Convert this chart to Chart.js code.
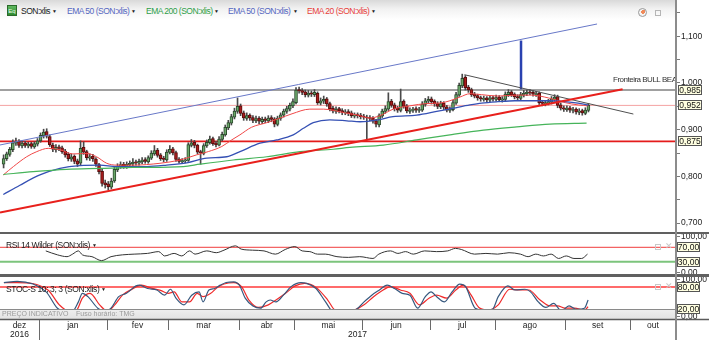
<!DOCTYPE html>
<html>
<head>
<meta charset="utf-8">
<script src="https://cdn.jsdelivr.net/npm/chart.js@4.4.1/dist/chart.umd.min.js"></script>
<style>
  body { margin: 0; background: #fff; }
  #wrap { position: relative; width: 709px; height: 340px; overflow: hidden; font-family: 'Liberation Sans', Arial, sans-serif; }
  canvas { position: absolute; left: 0; }
  #header { position: absolute; left: 0; top: 0; width: 676px; height: 20px; background: linear-gradient(#d9d9d9, #f2f2f2 45%, #fff); }
  .lbl { position: absolute; font-size: 8.5px; line-height: 9px; white-space: nowrap; letter-spacing: -0.5px; }
  .arr { position: absolute; font-size: 5px; line-height: 9px; color: #222; }
  .sep { position: absolute; left: 0; width: 709px; background: #606060; }
  #axisline { position: absolute; left: 675px; top: 0; width: 2px; height: 340px; background: #8c8c8c; }
  #eq { position: absolute; left: 7px; top: 5px; width: 10px; height: 11px; background: linear-gradient(#5fb85f, #2f8a2f); border: 1px solid #2a6a2a; box-sizing: border-box; color: #e8ffe8; font-size: 6px; line-height: 10px; text-align: center; }
  .ico { position: absolute; box-sizing: border-box; }
</style>
</head>
<body>
<div id="wrap">
  <canvas id="main" width="709" height="232" style="top:0"></canvas>
  <canvas id="rsi" width="709" height="40" style="top:234px"></canvas>
  <canvas id="stoch" width="709" height="64" style="top:276px"></canvas>

  <div id="header">
    <div id="eq">Eq</div>
    <div class="lbl" style="left:21px;top:7px;color:#1a1a1a">SON:xlis</div><div class="arr" style="left:52px;top:7px">&#9660;</div>
    <div class="lbl" style="left:67px;top:7px;color:#5566c0">EMA 50 (SON:xlis)</div><div class="arr" style="left:131px;top:7px">&#9660;</div>
    <div class="lbl" style="left:146px;top:7px;color:#2e9e48">EMA 200 (SON:xlis)</div><div class="arr" style="left:214px;top:7px">&#9660;</div>
    <div class="lbl" style="left:228px;top:7px;color:#5566c0">EMA 50 (SON:xlis)</div><div class="arr" style="left:293px;top:7px">&#9660;</div>
    <div class="lbl" style="left:307px;top:7px;color:#e8403a">EMA 20 (SON:xlis)</div><div class="arr" style="left:371px;top:7px">&#9660;</div>
    <div class="ico" style="left:638px;top:8px;width:9px;height:9px;border-radius:50%;border:1px solid #999;background:radial-gradient(circle at 60% 40%, #f08a5a 0 35%, #f4f4f4 36%)"></div>
    <div class="ico" style="left:655px;top:10px;width:6px;height:6px;border:1px solid #b5b5b5"></div>
  </div>

  <div class="sep" style="top:232px;height:2px"></div>
  <div class="sep" style="top:274px;height:3px"></div>

  <div class="lbl" style="left:6px;top:241px;color:#222;letter-spacing:-0.4px">RSI 14 Wilder (SON:xlis)</div><div class="arr" style="left:92px;top:241px">&#9660;</div>
  <div class="lbl" style="left:6px;top:285px;color:#222;letter-spacing:-0.4px">STOC-S 10; 3; 3 (SON:xlis)</div><div class="arr" style="left:101px;top:285px">&#9660;</div>

  <div class="ico" style="left:655px;top:244px;width:6px;height:6px;border:1px solid #c8c8c8"></div>
  <div class="lbl" style="left:665px;top:242px;color:#c8c8c8">&#10005;</div>
  <div class="ico" style="left:655px;top:284px;width:6px;height:6px;border:1px solid #c8c8c8"></div>
  <div class="lbl" style="left:665px;top:282px;color:#c8c8c8">&#10005;</div>

  <div id="axisline"></div>
</div>

<script>
const FONT = "'Liberation Sans', Arial, sans-serif";
const X_MIN = -1.17;
const X_MAX = 218.45;

// daily candles, dez 2016 .. set 2017
const opens = [
  .826,.838,.847,.857,.871,.875,.865,.872,.865,.870,
  .863,.869,.876,.887,.896,.885,.867,.857,.863,.861,
  .854,.847,.837,.843,.833,.828,.862,.853,.839,.843,
  .837,.825,.811,.786,.784,.777,.790,.814,.821,.826,
  .821,.825,.827,.831,.828,.831,.836,.831,.839,.848,
  .856,.846,.839,.835,.851,.859,.851,.837,.831,.833,
  .834,.866,.873,.867,.853,.849,.865,.872,.881,.871,
  .867,.879,.889,.904,.914,.927,.939,.951,.936,.924,
  .931,.926,.919,.925,.917,.923,.919,.926,.923,.911,
  .924,.931,.939,.944,.951,.958,.986,.984,.981,.974,
  .979,.975,.978,.957,.961,.966,.956,.946,.939,.945,
  .941,.936,.939,.936,.929,.932,.931,.929,.926,.926,
  .925,.919,.910,.929,.939,.944,.961,.953,.946,.941,
  .961,.951,.939,.941,.945,.941,.942,.954,.961,.966,
  .961,.956,.949,.957,.949,.941,.943,.957,.974,.994,
  1.012,.991,.986,.976,.973,.969,.965,.968,.963,.969,
  .965,.970,.963,.965,.975,.981,.976,.971,.967,.974,
  .977,.981,.980,.975,.978,.959,.955,.957,.959,.965,
  .971,.953,.947,.943,.947,.941,.944,.937,.941,.935,
  .941
];
const closes = [
  .838,.848,.858,.872,.874,.866,.871,.866,.869,.864,
  .870,.876,.888,.895,.886,.868,.858,.862,.860,.853,
  .846,.838,.842,.832,.826,.860,.852,.840,.842,.838,
  .826,.810,.785,.782,.778,.790,.815,.822,.825,.822,
  .826,.828,.830,.829,.832,.835,.832,.840,.850,.855,
  .845,.838,.836,.852,.858,.850,.836,.832,.834,.835,
  .868,.872,.866,.852,.850,.866,.873,.880,.870,.868,
  .880,.890,.905,.915,.928,.940,.950,.935,.925,.930,
  .925,.920,.924,.918,.922,.920,.925,.922,.912,.925,
  .932,.940,.945,.952,.960,.985,.983,.980,.975,.978,
  .976,.980,.958,.962,.965,.955,.945,.940,.944,.940,
  .937,.938,.935,.930,.931,.930,.928,.927,.925,.924,
  .918,.912,.930,.940,.945,.960,.952,.945,.942,.960,
  .950,.940,.942,.944,.942,.943,.955,.962,.965,.960,
  .955,.950,.956,.948,.942,.944,.958,.975,.995,1.010,
  .990,.985,.975,.972,.968,.966,.967,.964,.968,.966,
  .969,.964,.966,.976,.980,.975,.970,.968,.975,.978,
  .980,.979,.976,.977,.958,.956,.958,.960,.966,.970,
  .952,.946,.944,.946,.942,.943,.938,.940,.936,.942,
  .952
];
const highs = [
  .846,.852,.862,.878,.882,.879,.876,.875,.873,.873,
  .874,.881,.893,.901,.902,.889,.871,.868,.867,.865,
  .858,.851,.848,.846,.837,.876,.874,.856,.848,.847,
  .840,.828,.815,.792,.789,.796,.820,.827,.831,.830,
  .831,.833,.838,.835,.837,.840,.840,.844,.855,.866,
  .860,.849,.843,.857,.866,.862,.854,.840,.838,.840,
  .872,.879,.877,.869,.856,.870,.878,.886,.884,.875,
  .885,.895,.910,.920,.933,.946,.968,.955,.940,.936,
  .934,.930,.929,.928,.927,.927,.930,.930,.926,.929,
  .936,.944,.950,.957,.966,.990,.991,.988,.985,.984,
  .983,.986,.981,.968,.972,.969,.959,.950,.949,.948,
  .945,.943,.943,.940,.936,.936,.935,.933,.931,.930,
  .928,.922,.934,.944,.951,.979,.965,.957,.950,.987,
  .964,.954,.947,.948,.949,.948,.960,.967,.971,.970,
  .964,.960,.961,.960,.952,.949,.963,.980,1.000,1.019,
  1.016,.995,.989,.980,.976,.972,.972,.971,.973,.972,
  .974,.973,.971,.981,.986,.984,.979,.975,.980,.984,
  .985,.986,.984,.982,.981,.963,.962,.965,.971,.975,
  .974,.957,.951,.951,.950,.948,.947,.945,.944,.947,
  .956
];
const lows = [
  .818,.834,.843,.853,.866,.862,.861,.862,.861,.860,
  .860,.865,.873,.882,.882,.864,.853,.852,.855,.849,
  .841,.833,.832,.827,.821,.825,.847,.835,.834,.832,
  .821,.805,.779,.775,.771,.773,.787,.810,.817,.817,
  .817,.821,.823,.824,.824,.827,.828,.828,.836,.845,
  .841,.834,.831,.832,.848,.846,.832,.828,.827,.829,
  .832,.863,.861,.848,.826,.846,.862,.869,.866,.863,
  .865,.876,.886,.900,.910,.923,.935,.930,.920,.920,
  .920,.915,.915,.913,.913,.915,.915,.917,.906,.908,
  .920,.927,.935,.940,.947,.955,.978,.975,.970,.970,
  .971,.971,.954,.953,.956,.950,.940,.936,.935,.936,
  .932,.932,.930,.926,.925,.925,.923,.922,.878,.919,
  .914,.906,.906,.926,.935,.941,.948,.940,.937,.938,
  .946,.936,.935,.937,.937,.937,.939,.950,.957,.955,
  .950,.945,.945,.943,.938,.937,.940,.954,.971,.990,
  .985,.980,.971,.968,.963,.961,.961,.959,.960,.961,
  .961,.960,.959,.962,.971,.971,.966,.963,.964,.970,
  .973,.975,.972,.971,.954,.951,.951,.953,.955,.961,
  .947,.942,.939,.939,.937,.936,.933,.932,.931,.932,
  .938
];

// moving averages (x = trading day)
const ema20X = [-0.1,3.2,7.5,10.8,14.5,18.3,22.5,27.0,30.2,33.5,36.7,42.0,50.8,57.3,62.7,66.5,70.9,74.1,76.8,80.5,85.5,89.5,93.7,99.5,104.0,110.9,114.5,119.0,122.3,126.6,132.0,137.5,141.8,145.0,148.3,151.5,155.3,160.7,166.1,171.6,177.0,182.4,186.7,190.0];
const ema20Y = [.803,.821,.842,.853,.860,.857,.848,.849,.842,.828,.824,.824,.828,.835,.846,.853,.864,.878,.889,.905,.915,.924,.934,.944,.944,.936,.932,.925,.930,.944,.951,.956,.957,.962,.970,.977,.975,.972,.974,.974,.968,.958,.953,.951];
const ema50X = [-0.1,5.3,11.8,18.3,24.8,31.3,36.7,46.5,53.0,59.5,66.0,72.5,76.8,83.3,88.7,94.1,97.4,100.6,106.0,111.5,115.8,121.6,126.5,134.2,140.7,146.1,151.5,155.3,160.6,166.1,177.0,182.4,186.6,190.0];
const ema50Y = [.761,.781,.803,.817,.823,.824,.821,.821,.824,.829,.839,.842,.853,.871,.878,.889,.903,.915,.921,.919,.917,.921,.928,.931,.939,.946,.953,.957,.960,.962,.962,.960,.957,.953];
const ema200X = [-0.1,9.6,20.5,31.3,42.1,58.4,63.8,74.6,85.5,96.3,107.1,112.5,123.4,134.2,145.0,155.9,166.7,177.5,189.4];
const ema200Y = [.804,.810,.815,.817,.819,.821,.826,.835,.842,.853,.858,.862,.867,.878,.889,.899,.906,.912,.914];

// drawn studies
const levels = [0.985, 0.952, 0.875];
const levelLabels = ['0,985', '0,952', '0,875'];
const supportX = [-1.17, 201.1], supportY = [0.7225, 0.9865];
const channelX = [-1.17, 192.8], channelY = [0.8672, 1.1264];
const resistX = [149.7, 204.6], resistY = [1.0178, 0.9335];
const markerX = [168.1, 168.1], markerY = [0.9865, 1.091];
const noteText = 'Fronteira BULL BEAR';
const noteX = 198, noteY = 1.006;

const priceTicks = [0.70, 0.75, 0.80, 0.85, 0.90, 0.95, 1.00, 1.05, 1.10, 1.15];
const priceTickLabels = ['0,700', '', '0,800', '', '0,900', '', '1,000', '', '1,100', ''];

// RSI 14
const rsiX = [13.7,17.5,20.6,22.4,24.3,25.6,28.7,31.8,34.9,38.6,42.4,46.7,50.4,52.3,55.4,57.9,60.4,62.2,66.0,69.1,71.6,75.3,77.2,80.9,84.6,88.3,91.5,94.6,97.0,99.5,102.0,104.5,108.3,112.0,115.7,120.0,121.9,125.7,128.1,130.6,133.1,136.8,140.6,144.3,146.8,148.7,153.0,156.7,160.5,164.2,167.9,170.4,172.9,175.4,177.9,180.3,182.8,185.3,187.8,189.7];
const rsiY = [60,49,44,51,60,49,44,33,44,49,51,53,58,46,53,46,60,51,60,55,62,74,65,62,60,51,64,72,60,58,51,51,44,42,44,39,51,60,53,58,51,60,58,60,67,64,51,53,51,55,51,44,51,46,51,39,46,39,39,51];
const rsiLevels = [70, 30];
const rsiLevelLabels = ['70,00', '30,00'];
const rsiTicks = [0, 100];
const rsiTickLabels = ['0,00', '100,00'];

// stochastic 10;3;3
const stochKX = [0.1,4.4,13.8,17.5,20.6,22.4,24.3,25.6,27.4,30.6,33.0,34.9,37.4,39.9,43.0,44.2,46.8,49.8,52.3,54.2,56.0,58.6,61.1,63.5,64.8,66.7,68.6,70.4,72.3,74.8,76.6,78.5,81.0,83.5,85.3,86.6,88.5,90.9,93.4,96.6,98.4,101.5,104.6,107.1,109.6,112.1,114.6,117.1,119.6,122.1,124.6,127.0,129.5,132.0,134.5,137.0,138.9,140.7,143.2,145.7,148.2,150.1,153.2,155.7,158.8,160.7,163.8,166.2,169.4,171.2,173.7,176.2,178.7,181.2,183.7,186.2,188.7,189.9];
const stochKY = [92,95,67,23,15,15,40,63,54,23,14,23,54,63,83,85,76,72,58,74,50,32,58,67,40,72,76,85,92,94,85,50,29,23,40,45,40,58,81,92,90,76,40,14,18,15,20,40,58,72,85,76,63,58,23,54,67,54,40,67,88,81,23,18,20,54,83,72,74,67,40,25,36,16,29,20,23,45];
const stochDX = [0.1,4.4,14.4,18.1,21.2,23.7,25.6,28.1,31.2,33.7,36.1,38.6,41.7,44.8,48.0,51.0,53.5,55.4,57.9,60.4,62.9,64.8,67.3,69.2,71.6,74.8,77.3,79.7,82.8,86.0,88.5,91.6,94.7,97.8,101.5,105.3,107.7,110.8,114.0,117.1,120.2,123.3,125.8,128.9,132.0,135.1,138.2,140.7,143.9,146.9,149.4,151.9,154.4,157.5,160.7,164.4,167.5,170.6,174.3,177.5,180.0,182.4,185.5,188.7,189.9];
const stochDY = [92,92,72,32,15,18,50,63,32,15,32,58,74,85,77,71,63,67,40,40,63,54,63,77,88,92,81,45,25,32,45,63,83,90,79,45,18,15,18,32,54,72,81,72,63,32,50,58,50,72,85,58,25,18,32,74,72,72,45,29,29,23,23,18,27];
const stochLevels = [80, 20];
const stochLevelLabels = ['80,00', '20,00'];
const stochTicks = [0, 100];
const stochTickLabels = ['0,00', '100,00'];

// time axis
const monthNames = ['dez', 'jan', 'fev', 'mar', 'abr', 'mai', 'jun', 'jul', 'ago', 'set', 'out'];
const monthStarts = [11.5, 33.5, 53.5, 76.5, 94.5, 116.5, 138.5, 159.5, 182.5, 203.5];
const yearNames = ['2016', '2017'];
const yearStarts = [11.5];

const pts = (xs, ys) => xs.map((x, i) => ({ x: x, y: ys[i] }));
const isUp = i => closes[i] >= opens[i];

// axes must not push the plot area in, the panels are placed by pixel
function noPad(s) {
  s.paddingTop = 0; s.paddingBottom = 0; s.paddingLeft = 0; s.paddingRight = 0;
}

function hiddenX() {
  return { type: 'linear', min: X_MIN, max: X_MAX, offset: false, display: false };
}

function rightAxis(min, max, tickVals, tickLabels) {
  return {
    position: 'right', min: min, max: max,
    afterFit: s => { s.width = 33; noPad(s); },
    afterBuildTicks: s => { s.ticks = tickVals.map(v => ({ value: v })); },
    grid: { drawOnChartArea: false, drawTicks: true, tickLength: 4, color: '#7a7a7a' },
    border: { display: false },
    ticks: { padding: 1, autoSkip: false, color: '#222', font: { size: 8.5, family: FONT },
      callback: (v, i) => tickLabels[i] }
  };
}

function lineDs(data, color, width, order, tension) {
  return { type: 'line', data: data, borderColor: color, borderWidth: width, pointRadius: 0,
    tension: tension || 0, cubicInterpolationMode: tension ? 'monotone' : 'default', order: order };
}

function flatLine(v, color, width, order) {
  return lineDs([{ x: X_MIN, y: v }, { x: X_MAX, y: v }], color, width, order);
}

// yellow value tags on the right axis
const tagPlugin = {
  id: 'tags',
  afterDraw(chart, args, opts) {
    const ctx = chart.ctx, y = chart.scales.y;
    ctx.save();
    ctx.font = '8.5px ' + FONT;
    ctx.textAlign = 'center';
    ctx.textBaseline = 'middle';
    opts.levels.forEach((v, i) => {
      const py = Math.round(y.getPixelForValue(v));
      ctx.fillStyle = '#ffffe1';
      ctx.fillRect(opts.x, py - 4.5, opts.w, 9);
      ctx.strokeStyle = '#555';
      ctx.lineWidth = 1;
      ctx.strokeRect(opts.x + 0.5, py - 4.5, opts.w, 9);
      ctx.fillStyle = '#111';
      ctx.fillText(opts.labels[i], opts.x + 0.5 + opts.w / 2, py + 0.5);
    });
    ctx.restore();
  }
};

const notePlugin = {
  id: 'note',
  afterDatasetsDraw(chart) {
    const ctx = chart.ctx, a = chart.chartArea;
    ctx.save();
    ctx.beginPath();
    ctx.rect(a.left, a.top, a.right - a.left, a.bottom - a.top);
    ctx.clip();
    ctx.font = '8px ' + FONT;
    ctx.letterSpacing = '-0.5px';
    ctx.fillStyle = '#333';
    ctx.textBaseline = 'middle';
    ctx.fillText(noteText, chart.scales.x.getPixelForValue(noteX), chart.scales.y.getPixelForValue(noteY));
    ctx.restore();
  }
};

// footer strip, month separators and years under the stochastic panel
const timePlugin = {
  id: 'timeStrip',
  afterDraw(chart) {
    const ctx = chart.ctx, a = chart.chartArea, x = chart.scales.x, y = chart.scales.y;
    const top = Math.round(y.getPixelForValue(20));
    const bot = a.bottom + 1;
    ctx.save();
    const g = ctx.createLinearGradient(0, top, 0, bot);
    g.addColorStop(0, '#efefef');
    g.addColorStop(1, '#e2e2e2');
    ctx.fillStyle = g;
    ctx.fillRect(0, top, a.right, bot - top);
    ctx.strokeStyle = '#8a8a8a';
    ctx.lineWidth = 1;
    ctx.beginPath(); ctx.moveTo(0, top + 0.5); ctx.lineTo(a.right, top + 0.5); ctx.stroke();
    ctx.font = '7px ' + FONT;
    ctx.fillStyle = '#9a9a9a';
    ctx.textBaseline = 'middle';
    ctx.fillText('PREÇO INDICATIVO', 2, (top + bot) / 2 + 0.5);
    ctx.fillText('Fuso horário: TMG', 76, (top + bot) / 2 + 0.5);

    ctx.strokeStyle = '#5a5a5a';
    ctx.lineWidth = 1.5;
    ctx.beginPath(); ctx.moveTo(0, bot + 0.5); ctx.lineTo(chart.width, bot + 0.5); ctx.stroke();

    ctx.lineWidth = 1;
    ctx.strokeStyle = '#6a6a6a';
    monthStarts.forEach(m => {
      const px = Math.round(x.getPixelForValue(m)) + 0.5;
      const isYear = yearStarts.includes(m);
      ctx.beginPath(); ctx.moveTo(px, bot + 1); ctx.lineTo(px, isYear ? chart.height : bot + 11); ctx.stroke();
    });

    ctx.font = '8.5px ' + FONT;
    ctx.fillStyle = '#222';
    ctx.textAlign = 'center';
    const edges = [X_MIN, ...yearStarts, X_MAX];
    yearNames.forEach((t, i) => {
      ctx.fillText(t, x.getPixelForValue((edges[i] + edges[i + 1]) / 2), chart.height - 5);
    });
    ctx.restore();
  }
};

const common = {
  responsive: false,
  animation: false,
  events: [],
  layout: { padding: 0, autoPadding: false },
  plugins: { legend: { display: false }, tooltip: { enabled: false } }
};

// price panel
new Chart(document.getElementById('main'), {
  type: 'bar',
  data: {
    datasets: [
      flatLine(levels[0], '#808080', 1.5, 10),
      flatLine(levels[1], '#f4a2a2', 1, 10),
      flatLine(levels[2], '#e41b1b', 1.6, 10),
      {
        type: 'bar', order: 8, grouped: false, barThickness: 1, minBarLength: 1,
        data: lows.map((l, i) => ({ x: i, y: [l, highs[i]] })),
        backgroundColor: '#4a4a4a'
      },
      {
        type: 'bar', order: 7, grouped: false, barThickness: 3, minBarLength: 1,
        borderWidth: 1, borderSkipped: false,
        data: opens.map((o, i) => ({ x: i, y: [o, closes[i]] })),
        backgroundColor: c => isUp(c.dataIndex) ? '#6aa86a' : '#a81c1c',
        borderColor: c => isUp(c.dataIndex) ? '#2c4a2c' : '#5a0c0c'
      },
      lineDs(pts(ema200X, ema200Y), '#46b45a', 1.2, 5, 0.4),
      lineDs(pts(ema50X, ema50Y), '#3550b4', 1.3, 5, 0.4),
      lineDs(pts(ema20X, ema20Y), '#f04848', 1, 5, 0.4),
      lineDs(pts(channelX, channelY), '#6878c8', 1, 3),
      lineDs(pts(supportX, supportY), '#e8201c', 2, 3),
      lineDs(pts(resistX, resistY), '#505050', 1, 3),
      lineDs(pts(markerX, markerY), '#2a42b0', 2.5, 3)
    ]
  },
  options: {
    ...common,
    scales: {
      x: hiddenX(),
      y: rightAxis(1.0 - 149 / 466.7, 1.0 + 83 / 466.7, priceTicks, priceTickLabels)
    },
    plugins: { ...common.plugins, tags: { levels: levels, labels: levelLabels, x: 678, w: 23 } }
  },
  plugins: [tagPlugin, notePlugin]
});

// RSI panel
new Chart(document.getElementById('rsi'), {
  type: 'line',
  data: {
    datasets: [
      flatLine(rsiLevels[0], '#f03c3c', 1, 4),
      flatLine(rsiLevels[1], '#7cc47c', 2, 4),
      lineDs(pts(rsiX, rsiY), '#333', 1, 1, 0.3)
    ]
  },
  options: {
    ...common,
    scales: {
      x: hiddenX(),
      y: rightAxis(-4.17, 106.94, rsiTicks, rsiTickLabels)
    },
    plugins: { ...common.plugins, tags: { levels: rsiLevels, labels: rsiLevelLabels, x: 677, w: 22 } }
  },
  plugins: [tagPlugin]
});

// stochastic panel with the time axis underneath
const monthEdges = [X_MIN, ...monthStarts, X_MAX];
const monthCenters = monthNames.map((m, i) => (monthEdges[i] + monthEdges[i + 1]) / 2);

new Chart(document.getElementById('stoch'), {
  type: 'line',
  data: {
    datasets: [
      flatLine(stochLevels[0], '#ff6b6b', 2, 4),
      lineDs(pts(stochDX, stochDY), '#f02a2a', 1.2, 2, 0.3),
      lineDs(pts(stochKX, stochKY), '#36587e', 1.2, 1, 0.3)
    ]
  },
  options: {
    ...common,
    scales: {
      x: {
        type: 'linear', min: X_MIN, max: X_MAX, offset: false, position: 'bottom',
        afterFit: s => { s.height = 22; noPad(s); },
        afterBuildTicks: s => { s.ticks = monthCenters.map(v => ({ value: v })); },
        grid: { display: false, drawTicks: false },
        border: { display: false },
        ticks: { autoSkip: false, maxRotation: 0, padding: 3, color: '#222',
          font: { size: 8.5, family: FONT }, callback: (v, i) => monthNames[i] }
      },
      y: rightAxis(-3.4, 109.6, stochTicks, stochTickLabels)
    },
    plugins: { ...common.plugins, tags: { levels: stochLevels, labels: stochLevelLabels, x: 677, w: 22 } }
  },
  plugins: [timePlugin, tagPlugin]
});
</script>
</body>
</html>
